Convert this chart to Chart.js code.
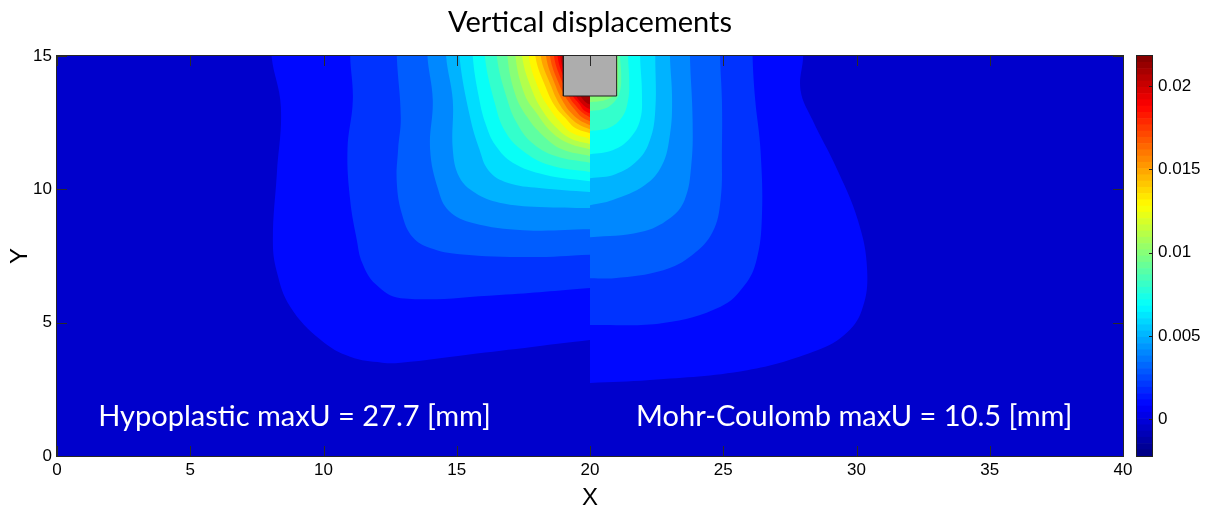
<!DOCTYPE html>
<html>
<head>
<meta charset="utf-8">
<script src="https://cdn.jsdelivr.net/npm/chart.js@4.4.1/dist/chart.umd.min.js"></script>
<style>
  html, body { margin: 0; padding: 0; background: #ffffff; }
  #wrap { position: relative; width: 1211px; height: 510px; }
  #main { position: absolute; left: 0; top: 0; }
  #cbar { position: absolute; left: 1136px; top: 0; }
</style>
</head>
<body>
<div id="wrap">
  <canvas id="main" width="1211" height="510"></canvas>
  <canvas id="cbar" width="75" height="510"></canvas>
</div>
<script>
// ---------------- data ----------------
const X_TICKS = [0, 5, 10, 15, 20, 25, 30, 35, 40];
const Y_TICKS = [0, 5, 10, 15];
const CBAR_TICKS = [0, 0.005, 0.01, 0.015, 0.02];
const CBAR_RANGE = [-0.0022, 0.0218];

const DOMAIN = [[0, 0], [40, 0], [40, 15], [0, 15]];
const SPLIT_X = 20;           // model split: hypoplastic (left) / Mohr-Coulomb (right)
const BG_VALUE = -0.0004;     // value shown below the lowest contour level

const LEVELS = [0.001, 0.002, 0.003, 0.004, 0.005, 0.006, 0.007, 0.008, 0.009, 0.010, 0.011,
                0.012, 0.013, 0.014, 0.015, 0.016, 0.017, 0.018, 0.019, 0.020, 0.021];

// contour lines [x, y], from the split line to the top surface (hypoplastic half)
const LEFT_CONTOURS = [
  [[20,4.35],[17.9,4.1],[15.4,3.8],[12.9,3.5],[12.2,3.5],[11.0,3.72],[9.9,4.35],[8.75,5.6],[8.25,6.9],[8.1,8.1],[8.25,10.6],[8.4,13.1],[8.05,15]],
  [[20,6.3],[16.6,6.04],[12.9,5.92],[11.95,6.45],[11.45,7.25],[11.25,8.1],[11.0,9.6],[10.9,11.5],[11.1,13.35],[11.0,15]],
  [[20,7.55],[17.7,7.46],[15.1,7.57],[14.0,7.8],[13.35,8.2],[12.95,9.05],[12.75,10.25],[12.8,11.5],[12.9,12.7],[12.75,15]],
  [[20,8.5],[17.5,8.47],[15.6,8.74],[14.7,9.2],[14.3,10.0],[14.0,11.5],[14.1,13.35],[13.9,15]],
  [[20,9.3],[18.1,9.34],[16.6,9.5],[15.7,9.86],[15.1,10.45],[14.85,11.5],[14.85,13.35],[14.6,15]],
  [[20,9.9],[18.1,10.05],[16.9,10.25],[16.2,10.7],[15.85,11.5],[15.5,12.7],[15.1,15]],
  [[20,10.3],[18.3,10.55],[17.1,11.0],[16.45,11.65],[16.1,12.4],[15.85,13.35],[15.6,15]],
  [[20,10.65],[18.5,10.9],[17.45,11.47],[16.8,12.2],[16.45,13.15],[16.05,15]],
  [[20,11.0],[18.7,11.25],[17.8,11.77],[17.25,12.5],[16.9,13.35],[16.5,15]],
  [[20,11.25],[18.95,11.5],[18.2,12.05],[17.65,12.7],[17.2,13.55],[16.9,15]],
  [[20,11.5],[19.15,11.75],[18.5,12.2],[18.0,12.85],[17.55,13.55],[17.2,15]],
  [[20,11.7],[19.25,11.92],[18.7,12.35],[18.25,12.9],[17.85,13.65],[17.45,15]],
  [[20,11.9],[19.35,12.1],[18.9,12.5],[18.5,13.0],[18.1,13.7],[17.7,15]],
  [[20,12.1],[19.45,12.3],[19.1,12.65],[18.7,13.1],[18.35,13.8],[17.95,15]],
  [[20,12.25],[19.55,12.45],[19.2,12.75],[18.85,13.2],[18.55,13.85],[18.15,15]],
  [[20,12.4],[19.6,12.6],[19.3,12.86],[19.0,13.27],[18.7,13.9],[18.35,15]],
  [[20,12.55],[19.7,12.7],[19.45,12.97],[19.15,13.35],[18.85,13.92],[18.5,15]],
  [[20,12.7],[19.75,12.85],[19.5,13.1],[19.25,13.42],[19.0,13.92],[18.65,15]],
  [[20,12.85],[19.77,12.97],[19.6,13.2],[19.35,13.5],[19.1,14.0],[18.78,15]],
  [[20,13.0],[19.8,13.12],[19.62,13.3],[19.45,13.55],[19.2,14.02],[18.88,15]],
  [[20,13.18],[19.85,13.26],[19.7,13.42],[19.55,13.65],[19.3,14.1],[18.96,15]]
];

// contour lines [x, y], from the split line to the top surface (Mohr-Coulomb half)
const RIGHT_CONTOURS = [
  [[20,2.74],[22.25,2.85],[25.9,3.22],[28.35,3.9],[29.55,4.55],[30.2,5.47],[30.4,6.97],[30.05,8.85],[29.2,10.9],[28.35,12.6],[27.9,13.72],[28.0,15]],
  [[20,4.91],[22.75,4.99],[24.9,5.6],[25.8,6.4],[26.25,7.35],[26.45,8.95],[26.4,11.45],[26.2,13.35],[26.1,15]],
  [[20,6.67],[20.9,6.67],[22.75,6.97],[23.85,7.55],[24.6,8.4],[24.9,9.6],[24.95,11.47],[24.95,13.35],[24.88,15]],
  [[20,8.2],[21.9,8.4],[23.0,8.92],[23.55,9.6],[23.8,10.9],[23.85,12.6],[23.75,15]],
  [[20,9.4],[20.85,9.6],[22.05,10.15],[22.7,10.9],[23.0,12.05],[23.08,13.35],[23.0,15]],
  [[20,10.42],[20.95,10.57],[21.8,11.1],[22.25,11.85],[22.45,12.97],[22.45,15]],
  [[20,11.32],[20.85,11.47],[21.5,11.92],[21.88,12.6],[21.95,13.55],[21.88,15]],
  [[20,12.19],[20.7,12.3],[21.2,12.7],[21.43,13.35],[21.47,14.1],[21.43,15]],
  [[20,12.94],[20.5,13.01],[20.9,13.27],[21.12,13.65],[21.17,14.3],[21.13,15]],
  [[20,13.27],[20.4,13.31],[20.75,13.42],[20.98,13.58],[21.05,14.1],[21.04,15]]
];

const FOOTING = [[19, 15], [19, 13.5], [21, 13.5], [21, 15]];

const ANNOTATIONS = ['Hypoplastic maxU = 27.7 [mm]', 'Mohr-Coulomb maxU = 10.5 [mm]'];
const ANNOTATION_ANCHORS = [[1.55, 1.12], [21.73, 1.12]];

// ---------------- helpers ----------------
const CMIN = CBAR_RANGE[0], CMAX = CBAR_RANGE[1];
function jet(v) {
  const f = Math.min(1, Math.max(0, (v - CMIN) / (CMAX - CMIN)));
  const c = t => Math.round(255 * Math.min(1, Math.max(0, t)));
  return 'rgb(' + c(Math.min(4 * f - 1.5, -4 * f + 4.5)) + ',' +
                  c(Math.min(4 * f - 0.5, -4 * f + 3.5)) + ',' +
                  c(Math.min(4 * f + 0.5, -4 * f + 2.5)) + ')';
}
const TOP_OUT = 16.5; // closes each band polygon above the plotted area
function closeAtTop(pts) {
  const last = pts[pts.length - 1];
  return pts.concat([[last[0], TOP_OUT], [SPLIT_X, TOP_OUT]]);
}

const layers = [];
layers.push({ pts: DOMAIN, color: jet(BG_VALUE), tension: 0 });
LEFT_CONTOURS.forEach((c, i) => layers.push({ pts: closeAtTop(c), color: jet(LEVELS[i]), tension: 0.4 }));
RIGHT_CONTOURS.forEach((c, i) => layers.push({ pts: closeAtTop(c), color: jet(LEVELS[i]), tension: 0.4 }));
layers.push({ pts: FOOTING, color: '#adadad', border: '#1e1e1e', bw: 1, tension: 0 });

const datasets = layers.map((L, i) => ({
  data: L.pts.map(p => ({ x: p[0], y: p[1] })),
  backgroundColor: L.color,
  borderColor: L.border || 'rgba(0,0,0,0)',
  borderWidth: L.bw || 0,
  fill: 'shape',
  tension: L.tension,
  pointRadius: 0,
  pointHoverRadius: 0,
  order: layers.length - i
}));

const AXIS_FONT = { family: "'Liberation Sans', Arial, sans-serif", size: 17 };

const framePlugin = {
  id: 'frame',
  afterDatasetsDraw(chart) {
    const { ctx, chartArea: a, scales: { x, y } } = chart;
    ctx.save();
    ctx.fillStyle = '#ffffff';
    ctx.font = "29px Lato, 'Open Sans', sans-serif";
    ctx.textBaseline = 'alphabetic';
    ctx.textAlign = 'left';
    ANNOTATIONS.forEach((t, i) => {
      ctx.fillText(t, x.getPixelForValue(ANNOTATION_ANCHORS[i][0]), y.getPixelForValue(ANNOTATION_ANCHORS[i][1]));
    });
    ctx.strokeStyle = '#2a2a2a';
    ctx.lineWidth = 1;
    ctx.beginPath();
    X_TICKS.forEach(v => {
      const px = Math.round(x.getPixelForValue(v)) + 0.5;
      ctx.moveTo(px, a.bottom); ctx.lineTo(px, a.bottom - 10);
      ctx.moveTo(px, a.top); ctx.lineTo(px, a.top + 10);
    });
    Y_TICKS.forEach(v => {
      const py = Math.round(y.getPixelForValue(v)) + 0.5;
      ctx.moveTo(a.left, py); ctx.lineTo(a.left + 10, py);
      ctx.moveTo(a.right, py); ctx.lineTo(a.right - 10, py);
    });
    ctx.stroke();
    ctx.strokeStyle = '#262626';
    ctx.strokeRect(a.left - 0.5, a.top - 0.5, a.right - a.left + 1, a.bottom - a.top + 1);
    ctx.restore();
  }
};

new Chart(document.getElementById('main'), {
  type: 'line',
  data: { datasets },
  options: {
    responsive: false,
    animation: false,
    devicePixelRatio: 1,
    events: [],
    layout: { padding: { left: 0, right: 88, top: 0, bottom: 0 } },
    plugins: {
      legend: { display: false },
      tooltip: { enabled: false },
      filler: { propagate: false },
      title: {
        display: true,
        fullSize: false,
        text: 'Vertical displacements',
        color: '#000000',
        font: { family: "Lato, 'Open Sans', sans-serif", size: 29, weight: 'normal', lineHeight: 1.2 },
        padding: { top: 5, bottom: 16.2 }
      }
    },
    scales: {
      x: {
        type: 'linear', min: 0, max: 40,
        grid: { display: false, drawTicks: false },
        border: { display: false },
        ticks: { font: AXIS_FONT, color: '#000', padding: 4, includeBounds: false, callback: v => String(v) },
        afterBuildTicks: s => { s.ticks = X_TICKS.map(v => ({ value: v })); },
        afterFit: s => { s.height = 54; },
        title: { display: true, text: 'X', color: '#000',
                 font: { family: "'Liberation Sans', Arial, sans-serif", size: 24, lineHeight: 1 },
                 padding: { top: 0, bottom: 0 } }
      },
      y: {
        type: 'linear', min: 0, max: 15,
        grid: { display: false, drawTicks: false },
        border: { display: false },
        ticks: { font: AXIS_FONT, color: '#000', padding: 5, includeBounds: false, callback: v => String(v) },
        afterBuildTicks: s => { s.ticks = Y_TICKS.map(v => ({ value: v })); },
        afterFit: s => { s.width = 57; },
        title: { display: true, text: 'Y', color: '#000',
                 font: { family: "'Liberation Sans', Arial, sans-serif", size: 24, lineHeight: 1 },
                 padding: { top: 8, bottom: 0 } }
      }
    }
  },
  plugins: [framePlugin]
});

// ---------------- colour bar ----------------
const CB_STEPS = 64;
const cbDatasets = [];
for (let i = 0; i < CB_STEPS; i++) {
  const lo = CMIN + (CMAX - CMIN) * i / CB_STEPS;
  const hi = CMIN + (CMAX - CMIN) * (i + 1) / CB_STEPS;
  cbDatasets.push({
    data: [[lo, hi]],
    backgroundColor: jet((lo + hi) / 2),
    borderWidth: 0,
    grouped: false,
    barPercentage: 1,
    categoryPercentage: 1
  });
}

const cbFrame = {
  id: 'cbframe',
  afterDatasetsDraw(chart) {
    const { ctx, chartArea: a, scales: { y } } = chart;
    ctx.save();
    ctx.strokeStyle = '#202020';
    ctx.lineWidth = 1;
    ctx.beginPath();
    CBAR_TICKS.forEach(v => {
      const py = Math.round(y.getPixelForValue(v)) + 0.5;
      ctx.moveTo(a.right, py); ctx.lineTo(a.right - 4, py);
    });
    ctx.stroke();
    ctx.strokeRect(a.left + 0.5, a.top - 0.5, a.right - a.left - 1, a.bottom - a.top + 1);
    ctx.restore();
  }
};

new Chart(document.getElementById('cbar'), {
  type: 'bar',
  data: { labels: ['colour'], datasets: cbDatasets },
  options: {
    responsive: false,
    animation: false,
    devicePixelRatio: 1,
    events: [],
    layout: { padding: { left: 0, right: 0, top: 56, bottom: 54 } },
    plugins: { legend: { display: false }, tooltip: { enabled: false } },
    scales: {
      x: { display: false },
      y: {
        position: 'right', min: CMIN, max: CMAX,
        grid: { display: false, drawTicks: false },
        border: { display: false },
        ticks: { font: AXIS_FONT, color: '#000', padding: 5, includeBounds: false,
                 callback: v => String(+Number(v).toFixed(4)) },
        afterBuildTicks: s => { s.ticks = CBAR_TICKS.map(v => ({ value: v })); },
        afterFit: s => { s.width = 58; }
      }
    }
  },
  plugins: [cbFrame]
});
</script>
</body>
</html>
